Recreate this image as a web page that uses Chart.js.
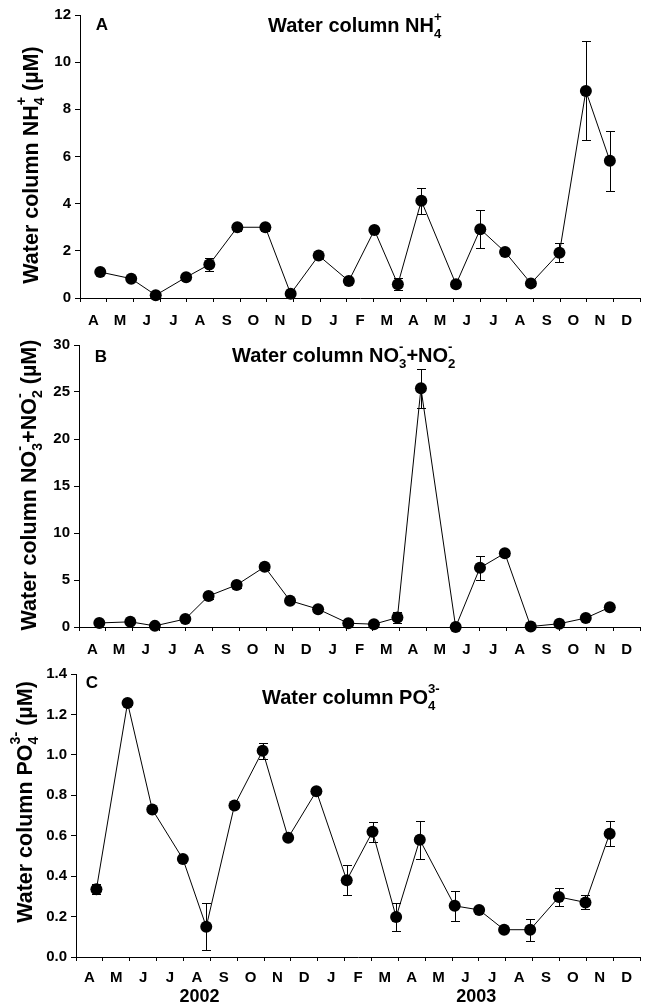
<!DOCTYPE html>
<html>
<head>
<meta charset="utf-8">
<script src="https://cdn.jsdelivr.net/npm/chart.js@4"></script>
<style>
body { margin: 0; background: #fff; }
#wrap { position: relative; width: 646px; height: 1008px; }
canvas { position: absolute; left: 0; }
</style>
</head>
<body>
<div id="wrap">
    <canvas id="chartA" width="646" height="332" style="top:0px"></canvas>
    <canvas id="chartB" width="646" height="325" style="top:332px"></canvas>
    <canvas id="chartC" width="646" height="351" style="top:657px"></canvas>
</div>
<script>
// Months from April 2002 to December 2003
const months = ['A', 'M', 'J', 'J', 'A', 'S', 'O', 'N', 'D', 'J', 'F', 'M', 'A', 'M', 'J', 'J', 'A', 'S', 'O', 'N', 'D'];
const years = ['2002', '2003'];
const yearCenters = [4.6, 14.9];

// Sampling dates, in months since 1 April 2002
const sampleDates = [0.76, 1.92, 2.84, 3.98, 4.85, 5.9, 6.95, 7.9, 8.95, 10.08,
    11.04, 11.92, 12.8, 14.1, 15.01, 15.94, 16.91, 17.98, 18.97, 19.87];

// Panel A: NH4+
const nh4 = [1.1, 0.82, 0.12, 0.88, 1.42, 3.0, 3.0, 0.18, 1.8, 0.72,
    2.88, 0.58, 4.12, 0.58, 2.92, 1.95, 0.62, 1.92, 8.78, 5.82];
const nh4Err = [0.1, 0.12, 0.05, 0.12, 0.28, 0.15, 0.15, 0.05, 0.1, 0.1,
    0.1, 0.25, 0.55, 0.05, 0.8, 0.1, 0.1, 0.4, 2.1, 1.27];
const nh4Ticks = [0, 2, 4, 6, 8, 10, 12];

// Panel B: NO3- + NO2-
const nox = [0.43, 0.55, 0.12, 0.85, 3.3, 4.47, 6.4, 2.8, 1.9, 0.4,
    0.3, 1.0, 25.4, 0.0, 6.3, 7.85, 0.05, 0.35, 0.95, 2.1];
const noxErr = [0.2, 0.2, 0.1, 0.2, 0.3, 0.3, 0.3, 0.2, 0.2, 0.1,
    0.1, 0.6, 2.05, 0.1, 1.3, 0.3, 0.1, 0.1, 0.1, 0.2];
const noxTicks = [0, 5, 10, 15, 20, 25, 30];

// Panel C: PO4 3-
const po4 = [0.335, 1.257, 0.73, 0.485, 0.15, 0.75, 1.02, 0.59, 0.82, 0.38,
    0.62, 0.198, 0.58, 0.253, 0.233, 0.135, 0.135, 0.297, 0.27, 0.61];
const po4Err = [0.025, 0.01, 0.01, 0.01, 0.115, 0.01, 0.04, 0.01, 0.01, 0.075,
    0.05, 0.07, 0.095, 0.075, 0.01, 0.01, 0.055, 0.045, 0.035, 0.063];
const po4Ticks = [0, 0.2, 0.4, 0.6, 0.8, 1.0, 1.2, 1.4];

const FONT = '"Liberation Sans", Arial, Helvetica, sans-serif';
const monthTicks = months.flatMap((m, i) => [i, i + 0.5]).concat([months.length]);

// Text with stacked sub/superscripts, e.g. ['NH', {sub: '4', sup: '+'}]
function richWidth(ctx, parts, size) {
    let w = 0;
    parts.forEach(p => {
        if (typeof p === 'string') {
            ctx.font = `bold ${size}px ${FONT}`;
            w += ctx.measureText(p).width;
        } else {
            ctx.font = `bold ${size * 0.66}px ${FONT}`;
            w += Math.max(ctx.measureText(p.sub || '').width, ctx.measureText(p.sup || '').width);
        }
    });
    return w;
}

function drawRich(ctx, parts, x, y, size) {
    ctx.textAlign = 'left';
    ctx.textBaseline = 'alphabetic';
    let cx = x;
    parts.forEach(p => {
        if (typeof p === 'string') {
            ctx.font = `bold ${size}px ${FONT}`;
            ctx.fillText(p, cx, y);
            cx += ctx.measureText(p).width;
        } else {
            ctx.font = `bold ${size * 0.66}px ${FONT}`;
            if (p.sub) ctx.fillText(p.sub, cx, y + size * 0.3);
            if (p.sup) ctx.fillText(p.sup, cx, y - size * 0.55);
            cx += Math.max(ctx.measureText(p.sub || '').width, ctx.measureText(p.sup || '').width);
        }
    });
}

// Panel letter, title, y axis title and (optionally) year labels
function makeTextPlugin(cfg) {
    return {
        id: 'panelText',
        afterDraw(chart) {
            const ctx = chart.ctx;
            ctx.save();
            ctx.fillStyle = '#000';

            ctx.font = `bold 17px ${FONT}`;
            ctx.textAlign = 'center';
            ctx.textBaseline = 'alphabetic';
            ctx.fillText(cfg.letter, cfg.letterX, cfg.letterY);

            drawRich(ctx, cfg.title, cfg.titleX, cfg.titleY, 20);

            ctx.save();
            ctx.translate(cfg.yTitleX, cfg.yTitleY);
            ctx.rotate(-Math.PI / 2);
            const w = richWidth(ctx, cfg.yTitle, 21.5);
            drawRich(ctx, cfg.yTitle, -w / 2, 0, 21.5);
            ctx.restore();

            if (cfg.years) {
                const x = chart.scales.x;
                ctx.font = `bold 18px ${FONT}`;
                ctx.textAlign = 'center';
                years.forEach((yr, i) => {
                    ctx.fillText(yr, x.getPixelForValue(yearCenters[i]), cfg.yearY);
                });
            }
            ctx.restore();
        }
    };
}

// Error bars drawn behind the markers
function makeErrorPlugin(errors) {
    return {
        id: 'errorBars',
        beforeDatasetsDraw(chart) {
            const { ctx, scales: { x, y } } = chart;
            const pts = chart.data.datasets[0].data;
            ctx.save();
            ctx.strokeStyle = '#000';
            ctx.lineWidth = 1;
            pts.forEach((p, i) => {
                const e = errors[i];
                if (!e) return;
                const px = Math.round(x.getPixelForValue(p.x)) + 0.5;
                const top = Math.round(y.getPixelForValue(p.y + e)) + 0.5;
                const bot = Math.round(y.getPixelForValue(p.y - e)) + 0.5;
                ctx.beginPath();
                ctx.moveTo(px, top); ctx.lineTo(px, bot);
                ctx.moveTo(px - 4.5, top); ctx.lineTo(px + 4.5, top);
                ctx.moveTo(px - 4.5, bot); ctx.lineTo(px + 4.5, bot);
                ctx.stroke();
            });
            ctx.restore();
        }
    };
}

function xScale(height, pad) {
    return {
        type: 'linear',
        min: 0,
        max: months.length,
        afterBuildTicks: s => { s.ticks = monthTicks.map(v => ({ value: v })); },
        afterFit: s => {
            s.height = height;
            s.paddingLeft = 0;
            s.paddingRight = 0;
        },
        grid: {
            drawOnChartArea: false,
            tickLength: 4,
            tickColor: c => (c.tick && c.tick.value % 1 === 0) ? '#000' : 'rgba(0,0,0,0)'
        },
        border: { display: true, color: '#000', width: 1 },
        ticks: {
            autoSkip: false,
            maxRotation: 0,
            padding: pad,
            color: '#000',
            font: { family: FONT, size: 15, weight: 'bold' },
            callback: v => (v % 1 ? months[Math.floor(v)] : '')
        }
    };
}

function yScale(ticks, width, digits) {
    return {
        type: 'linear',
        min: ticks[0],
        max: ticks[ticks.length - 1],
        afterBuildTicks: s => { s.ticks = ticks.map(v => ({ value: v })); },
        afterFit: s => {
            s.width = width;
            s.paddingTop = 0;
            s.paddingBottom = 0;
        },
        grid: { drawOnChartArea: false, tickLength: 5, tickColor: '#000' },
        border: { display: true, color: '#000', width: 1 },
        ticks: {
            padding: 4,
            color: '#000',
            font: { family: FONT, size: 15, weight: 'bold' },
            callback: v => Number(v).toFixed(digits)
        }
    };
}

function makePanel(id, values, errors, ticks, opts) {
    const ctx = document.getElementById(id).getContext('2d');
    return new Chart(ctx, {
        type: 'line',
        data: {
            datasets: [{
                data: sampleDates.map((d, i) => ({ x: d, y: values[i] })),
                borderColor: '#000',
                borderWidth: 1,
                pointRadius: 6,
                pointBackgroundColor: '#000',
                pointBorderColor: '#000',
                pointBorderWidth: 0,
                tension: 0,
                clip: false
            }]
        },
        options: {
            responsive: false,
            animation: false,
            devicePixelRatio: 1,
            layout: { padding: { top: opts.padTop, right: opts.padRight, left: 0, bottom: 0 } },
            plugins: { legend: { display: false }, tooltip: { enabled: false } },
            scales: {
                x: xScale(opts.xHeight, opts.xPad),
                y: yScale(ticks, opts.yWidth, opts.digits)
            }
        },
        plugins: [makeErrorPlugin(errors), makeTextPlugin(opts.text)]
    });
}

makePanel('chartA', nh4, nh4Err, nh4Ticks, {
    padTop: 15, padRight: 3, xHeight: 34, xPad: 10, yWidth: 80, digits: 0,
    text: {
        letter: 'A', letterX: 102, letterY: 30,
        title: ['Water column NH', { sub: '4', sup: '+' }], titleX: 268, titleY: 32,
        yTitle: ['Water column NH', { sub: '4', sup: '+' }, ' (\u00b5M)'], yTitleX: 38, yTitleY: 165
    }
});

makePanel('chartB', nox, noxErr, noxTicks, {
    padTop: 13, padRight: 3, xHeight: 30, xPad: 10, yWidth: 79, digits: 0,
    text: {
        letter: 'B', letterX: 101, letterY: 30,
        title: ['Water column NO', { sub: '3', sup: '-' }, '+NO', { sub: '2', sup: '-' }], titleX: 232, titleY: 30,
        yTitle: ['Water column NO', { sub: '3', sup: '-' }, '+NO', { sub: '2', sup: '-' }, ' (\u00b5M)'], yTitleX: 36, yTitleY: 153
    }
});

makePanel('chartC', po4, po4Err, po4Ticks, {
    padTop: 17, padRight: 4, xHeight: 51, xPad: 8, yWidth: 76, digits: 1,
    text: {
        letter: 'C', letterX: 92, letterY: 31,
        title: ['Water column PO', { sub: '4', sup: '3-' }], titleX: 262, titleY: 47,
        yTitle: ['Water column PO', { sub: '4', sup: '3-' }, ' (\u00b5M)'], yTitleX: 32, yTitleY: 145,
        years: true, yearY: 345
    }
});
</script>
</body>
</html>
